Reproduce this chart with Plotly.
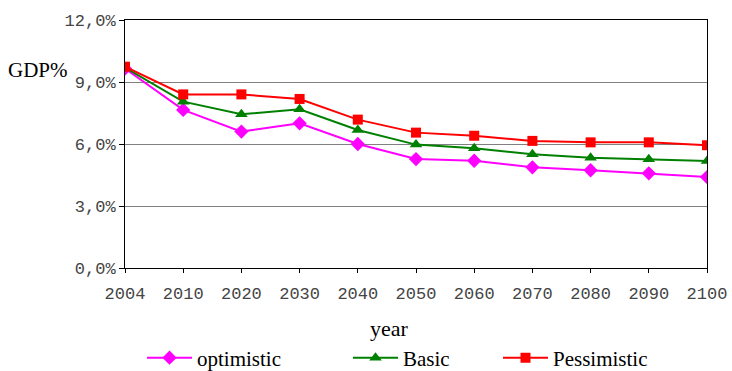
import plotly.graph_objects as go

# Projected GDP share by scenario
years = ["2004", "2010", "2020", "2030", "2040", "2050", "2060", "2070", "2080", "2090", "2100"]
optimistic = [9.65, 7.65, 6.6, 7.0, 6.0, 5.27, 5.19, 4.87, 4.73, 4.58, 4.4]
basic = [9.7, 8.05, 7.44, 7.68, 6.68, 5.97, 5.79, 5.5, 5.34, 5.26, 5.18]
pessimistic = [9.74, 8.4, 8.4, 8.18, 7.18, 6.55, 6.4, 6.15, 6.08, 6.08, 5.94]

y_ticks = [0, 3, 6, 9, 12]
y_tick_labels = ["0,0%", "3,0%", "6,0%", "9,0%", "12,0%"]

serif = "Liberation Serif"
mono = "Liberation Mono"

fig = go.Figure()

series = [
    ("optimistic", optimistic, "#FF00FF", "diamond", 11, "legend"),
    ("Basic", basic, "#008000", "triangle-up", 11, "legend2"),
    ("Pessimistic", pessimistic, "#FF0000", "square", 10, "legend3"),
]
for name, vals, color, symbol, size, leg in series:
    fig.add_trace(go.Scatter(
        x=years, y=vals, name=name, mode="lines+markers",
        line=dict(color=color, width=2),
        marker=dict(symbol=symbol, size=size, color=color),
        legend=leg,
    ))

plot_w = 582
plot_h = 248
legend_style = dict(
    orientation="h", yanchor="middle", xanchor="left",
    itemwidth=45,
    font=dict(family=serif, size=21, color="#000000"),
    bgcolor="rgba(0,0,0,0)", borderwidth=0,
)
legend_y = -(358 - 268) / plot_h

fig.update_layout(
    width=732, height=371,
    margin=dict(l=125, r=25, t=20, b=103, autoexpand=False),
    paper_bgcolor="white", plot_bgcolor="white",
    font=dict(family=serif, color="#000000"),
    showlegend=True,
    legend=dict(x=(142 - 125) / plot_w, y=legend_y, **legend_style),
    legend2=dict(x=(348 - 125) / plot_w, y=legend_y, **legend_style),
    legend3=dict(x=(498 - 125) / plot_w, y=legend_y, **legend_style),
    xaxis=dict(
        type="category", range=[0, 10],
        showline=True, linecolor="black", linewidth=1, mirror=True,
        ticks="outside", ticklen=4, tickcolor="black",
        ticklabelstandoff=6,
        showgrid=False, zeroline=False,
        tickfont=dict(family=mono, size=17, color="#444444"),
    ),
    yaxis=dict(
        range=[0, 12], tickvals=y_ticks, ticktext=y_tick_labels,
        showline=True, linecolor="black", linewidth=1, mirror=True,
        ticks="outside", ticklen=5, tickcolor="black",
        showgrid=True, gridcolor="#808080", gridwidth=1, zeroline=False,
        tickfont=dict(family=mono, size=17, color="#444444"),
    ),
    annotations=[
        dict(text="GDP%", xref="paper", yref="paper",
             x=-87 / plot_w, y=(268 - 70) / plot_h, xanchor="center", yanchor="middle",
             showarrow=False, font=dict(family=serif, size=21, color="#000000")),
        dict(text="year", xref="paper", yref="paper",
             x=(389 - 125) / plot_w, y=-(328 - 268) / plot_h, xanchor="center", yanchor="middle",
             showarrow=False, font=dict(family=serif, size=22, color="#000000")),
    ],
)

fig.write_html("out.html")
